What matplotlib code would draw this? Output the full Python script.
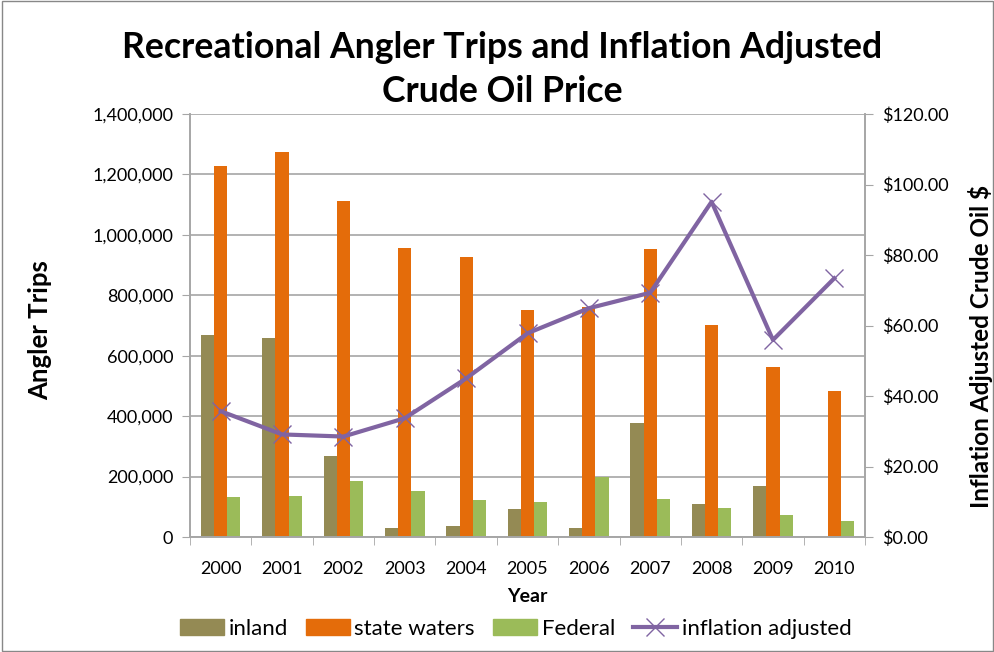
import numpy as np
import matplotlib.pyplot as plt
from matplotlib.ticker import FuncFormatter, FixedLocator
from matplotlib.lines import Line2D
from matplotlib.patches import Patch

plt.rcParams['font.family'] = ['Lato', 'DejaVu Sans']

years = ['2000', '2001', '2002', '2003', '2004', '2005', '2006', '2007', '2008', '2009', '2010']
inland = [669000, 659000, 268000, 31000, 37000, 92000, 31000, 377000, 108000, 170000, 0]
state_waters = [1228000, 1273000, 1113000, 957000, 927000, 750000, 760000, 953000, 702000, 564000, 482000]
federal = [132000, 136000, 186000, 152000, 122000, 116000, 200000, 126000, 96000, 72000, 54000]
oil_price = [35.7, 29.1, 28.5, 33.7, 45.0, 57.8, 64.9, 69.3, 95.1, 55.9, 73.4]

c_inland = '#948a54'
c_state = '#e46c0a'
c_fed = '#9bbb59'
c_line = '#8064a2'
c_grid = '#a6a6a6'

fig = plt.figure(figsize=(9.95, 6.52), dpi=100)
ax = fig.add_axes([190/995, 1-537/652, 675/995, 423/652])
ax2 = ax.twinx()

x = np.arange(len(years))
w = 0.215
ax.bar(x - w, inland, w, color=c_inland, zorder=2)
ax.bar(x, state_waters, w, color=c_state, zorder=2)
ax.bar(x + w, federal, w, color=c_fed, zorder=2)
ax2.plot(x, oil_price, color=c_line, lw=3, marker='x', ms=13, mew=1.0, zorder=3)

ax.set_xlim(-0.5, len(years) - 0.5)
ax.set_ylim(0, 1400000)
ax.set_yticks(np.arange(0, 1400001, 200000))
ax.yaxis.set_major_formatter(FuncFormatter(lambda v, p: f'{int(v):,}'))
ax.grid(axis='y', color=c_grid, lw=1.2, zorder=0)
ax.set_axisbelow(True)
ax.set_xticks(x)
ax.set_xticklabels(years)
ax.xaxis.set_minor_locator(FixedLocator(np.arange(-0.5, len(years), 1)))
ax.tick_params(axis='x', which='major', length=0, labelsize=13, pad=17)
ax.tick_params(axis='x', which='minor', length=6, color=c_grid, direction='out')
ax.tick_params(axis='y', length=6, color=c_grid, labelsize=13, pad=6)

ax2.set_ylim(0, 120)
ax2.set_yticks(np.arange(0, 121, 20))
ax2.yaxis.set_major_formatter(FuncFormatter(lambda v, p: f'${v:.2f}'))
ax2.tick_params(axis='y', length=6, color=c_grid, labelsize=13, pad=6)

for a in (ax, ax2):
    a.spines['top'].set_visible(False)
    for s in ('left', 'right', 'bottom'):
        a.spines[s].set_color(c_grid)
        a.spines[s].set_linewidth(1.2)

ax.set_ylabel('Angler Trips', fontsize=18.5, fontweight='bold')
ax.yaxis.set_label_coords(-0.204, 0.49)
ax2.set_ylabel('Inflation Adjusted Crude Oil $', fontsize=17.5, fontweight='bold')
ax2.yaxis.set_label_coords(1.152, 0.45)
ax.set_xlabel('Year', fontsize=14, fontweight='bold', labelpad=8)

fig.text(0.505, 0.893, 'Recreational Angler Trips and Inflation Adjusted\nCrude Oil Price',
         ha='center', va='center', fontsize=25.7, fontweight='bold', linespacing=1.42)

handles = [Patch(color=c_inland, label='inland'),
           Patch(color=c_state, label='state waters'),
           Patch(color=c_fed, label='Federal'),
           Line2D([], [], color=c_line, lw=3, marker='x', ms=13, mew=1.0, label='inflation adjusted')]
fig.legend(handles=handles, loc='center', bbox_to_anchor=(0.518, 0.036), ncol=4, frameon=False,
           fontsize=16, handlelength=2.0, handleheight=0.7, handletextpad=0.2, columnspacing=0.8)

fig.patches.append(plt.Rectangle((0.002, 0.002), 0.996, 0.996, transform=fig.transFigure,
                                 fill=False, edgecolor='#888888', lw=1))

fig.savefig('out.png', dpi=100)
